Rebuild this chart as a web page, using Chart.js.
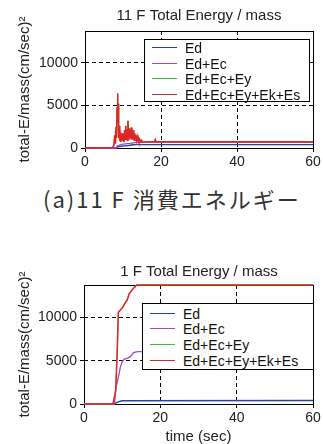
<!DOCTYPE html>
<html>
<head>
<meta charset="utf-8">
<script src="https://cdn.jsdelivr.net/npm/chart.js@4.4.1/dist/chart.umd.min.js"></script>
<style>
  body { margin: 0; width: 323px; height: 444px; background: #fff; position: relative; overflow: hidden;
         font-family: "Liberation Sans", Arial, sans-serif; }
  .panel { position: absolute; left: 0; width: 323px; }
  .legend { position: absolute; background: #fff; border: 1px solid #000; box-sizing: border-box;
            font-size: 14px; color: #111; }
  .legend div { position: absolute; left: 0; height: 16px; line-height: 16px; white-space: nowrap; }
  .legend i { position: absolute; left: 7px; top: 7px; width: 25px; height: 0; border-top: 1.5px solid; }
  .legend span { position: absolute; left: 40px; top: 0; }
  .caption { position: absolute; left: 43px; top: 184px; line-height: 28px; font-size: 22px; letter-spacing: 2px;
             color: #333; font-family: "Noto Sans CJK JP", "Noto Sans", sans-serif; white-space: nowrap; }
</style>
</head>
<body>
<div class="panel" style="top:0;height:175px;"><canvas id="chart11"></canvas></div>
<div class="legend" id="legend11" style="left:144px;top:39px;width:166px;height:63px;"></div>
<div class="caption">(a)11 F 消費エネルギー</div>
<div class="panel" style="top:262px;height:182px;"><canvas id="chart1"></canvas></div>
<div class="legend" id="legend1" style="left:142px;top:303px;width:172px;height:67px;"></div>

<script>
// ---------- shared labels / axes ----------
const seriesLabels = ["Ed", "Ed+Ec", "Ed+Ec+Ey", "Ed+Ec+Ey+Ek+Es"];
const seriesColors = ["#2843a6", "#a545c2", "#35c335", "#e02424"];
const legendColors = ["#2843a6", "#a545c2", "#35c335", "#c43232"];
const seriesWidths = [1.4, 1.3, 1, 1.5];
const yTitle = "total-E/mass(cm/sec)²";
const xTicks = [0, 20, 40, 60];
const yTicks = [0, 5000, 10000];
const xMax = 60;
const yMax = 13750;

// ---------- 11 F ----------
const f11EdT = [0, 8.2, 8.6, 9.5, 10.5, 11.5, 12.5, 13.5, 60];
const f11EdV = [0, 0, 150, 200, 250, 300, 380, 400, 400];
const f11EcT = [0, 8.2, 8.6, 10, 12, 13.5, 60];
const f11EcV = [0, 0, 300, 450, 550, 650, 660];
const f11TotT = [0, 7.2, 7.6, 7.8, 7.9, 8.0, 8.1, 8.2, 8.3, 8.45, 8.55, 8.65, 8.75, 8.85, 8.95, 9.05, 9.2, 9.35,
  9.5, 9.65, 9.8, 9.95, 10.1, 10.25, 10.4, 10.55, 10.7, 10.85, 11.0, 11.15, 11.3, 11.45, 11.6, 11.75, 11.9, 12.05,
  12.2, 12.35, 12.5, 12.65, 12.8, 12.95, 13.1, 13.25, 13.4, 13.55, 13.7, 13.85, 14.0, 14.2, 14.4, 14.6, 14.9, 15.2,
  17, 18.3, 18.5, 18.7, 60];
const f11TotV = [30, 40, 300, 1500, 600, 2000, 900, 2500, 1200, 4800, 6400, 3000, 5200, 1200, 2600, 900, 1900, 700,
  1400, 800, 1700, 900, 1500, 700, 2100, 1000, 2600, 1100, 2200, 900, 3200, 1300, 2300, 1000, 2000, 1200,
  2400, 1000, 1900, 1100, 2100, 900, 1700, 1000, 1500, 900, 1300, 800, 1200, 800, 1000, 750, 900, 700,
  720, 750, 1000, 720, 720];
// Ed+Ec+Ey is not visible: it lies under the total curve
const f11EyT = f11TotT, f11EyV = f11TotV;

// ---------- 1 F ----------
const f1EdT = [0, 8.0, 8.5, 9.0, 10.0, 60];
const f1EdV = [0, 0, 150, 250, 380, 400];
const f1EcT = [0, 8.0, 8.3, 8.6, 9.1, 9.5, 10.0, 10.6, 11.5, 12.2, 13.0, 14.0, 60];
const f1EcV = [0, 0, 1800, 2300, 3300, 4200, 4900, 5200, 5300, 5500, 5950, 6050, 6050];
const f1TotT = [0, 7.6, 8.3, 8.7, 9.0, 9.6, 10.2, 10.8, 11.3, 11.8, 12.3, 12.8, 13.3, 13.8, 60];
const f1TotV = [0, 0, 1500, 6000, 10600, 10900, 11200, 11700, 12000, 12700, 13000, 13300, 13500, 13750, 13750];
const f1EyT = f1TotT, f1EyV = f1TotV;

const pts = (t, v) => t.map((x, i) => ({ x: x, y: v[i] }));

// box round the plot, the chart title and the rotated y title (Chart.js would squeeze it to the axis height)
const framePlugin = {
  id: "frame",
  beforeDatasetsDraw(chart) {
    const a = chart.chartArea, ctx = chart.ctx;
    ctx.save();
    ctx.strokeStyle = "#000";
    ctx.lineWidth = 1;
    ctx.strokeRect(Math.round(a.left) + 0.5, Math.round(a.top) + 0.5, Math.round(a.right - a.left), Math.round(a.bottom - a.top));
    ctx.restore();
  },
  afterDraw(chart, args, opts) {
    const a = chart.chartArea, ctx = chart.ctx;
    ctx.save();
    ctx.fillStyle = "#222";
    ctx.font = "15px 'Liberation Sans'";
    ctx.textAlign = "center";
    ctx.textBaseline = "middle";
    ctx.fillText(opts.title, opts.titleX, opts.titleY);
    ctx.translate(opts.yTitleX, (a.top + a.bottom) / 2);
    ctx.rotate(-Math.PI / 2);
    ctx.fillText(yTitle, 0, 0);
    ctx.restore();
  }
};

function makeChart(id, title, series, cfg) {
  const tickFont = { family: "Liberation Sans", size: 14 };
  new Chart(document.getElementById(id), {
    type: "line",
    data: {
      datasets: series.map((s, i) => ({
        label: seriesLabels[i],
        data: pts(s[0], s[1]),
        borderColor: seriesColors[i],
        borderWidth: seriesWidths[i],
        pointRadius: 0,
        tension: 0,
        clip: 2,
        order: series.length - i
      }))
    },
    options: {
      responsive: true, maintainAspectRatio: false, animation: false,
      layout: { padding: { left: 0, right: 10, top: cfg.top, bottom: 0 } },
      plugins: {
        legend: { display: false },
        tooltip: { enabled: false },
        frame: { title: title, titleX: 199, titleY: cfg.titleY, yTitleX: 25 }
      },
      scales: {
        x: {
          type: "linear", min: 0, max: xMax,
          afterBuildTicks: (s) => { s.ticks = xTicks.map((v) => ({ value: v })); },
          afterFit: (s) => { s.height = cfg.xHeight; },
          ticks: { color: "#222", font: tickFont, padding: 2, maxRotation: 0, callback: (v) => String(v) },
          grid: { color: (c) => (c.tick && (c.tick.value === 0 || c.tick.value === xMax)) ? "rgba(0,0,0,0)" : "#000",
                  tickColor: "#000", tickLength: 4, lineWidth: 1 },
          border: { display: false, dash: [4, 3] },
          title: cfg.xTitle ? { display: true, text: cfg.xTitle, color: "#222",
                   font: { family: "Liberation Sans", size: 15, lineHeight: 1 }, padding: { top: 0, bottom: 0 } } : { display: false }
        },
        y: {
          type: "linear", min: 0, max: yMax,
          afterBuildTicks: (s) => { s.ticks = yTicks.map((v) => ({ value: v })); },
          afterFit: (s) => { s.width = cfg.yWidth; },
          ticks: { color: "#222", font: tickFont, padding: 3, callback: (v) => String(v) },
          grid: { color: (c) => (c.tick && c.tick.value === 0) ? "rgba(0,0,0,0)" : "#000",
                  tickColor: "#000", tickLength: 4, lineWidth: 1 },
          border: { display: false, dash: [4, 3] }
        }
      }
    },
    plugins: [framePlugin]
  });
}

function makeLegend(id, rowTops) {
  document.getElementById(id).innerHTML = seriesLabels.map((lab, i) =>
    `<div style="top:${rowTops[i]}px"><i style="border-color:${legendColors[i]}"></i><span>${lab}</span></div>`).join("");
}

makeChart("chart11", "11 F Total Energy / mass",
  [[f11EdT, f11EdV], [f11EcT, f11EcV], [f11EyT, f11EyV], [f11TotT, f11TotV]],
  { top: 31, titleY: 16, xHeight: 27, yWidth: 85 });
makeChart("chart1", "1 F Total Energy / mass",
  [[f1EdT, f1EdV], [f1EcT, f1EcV], [f1EyT, f1EyV], [f1TotT, f1TotV]],
  { top: 23, titleY: 10, xHeight: 40, yWidth: 84, xTitle: "time (sec)" });

makeLegend("legend11", [0, 15.7, 31.4, 47.1]);
makeLegend("legend1", [1.5, 17.2, 32.9, 48.6]);
</script>
</body>
</html>
